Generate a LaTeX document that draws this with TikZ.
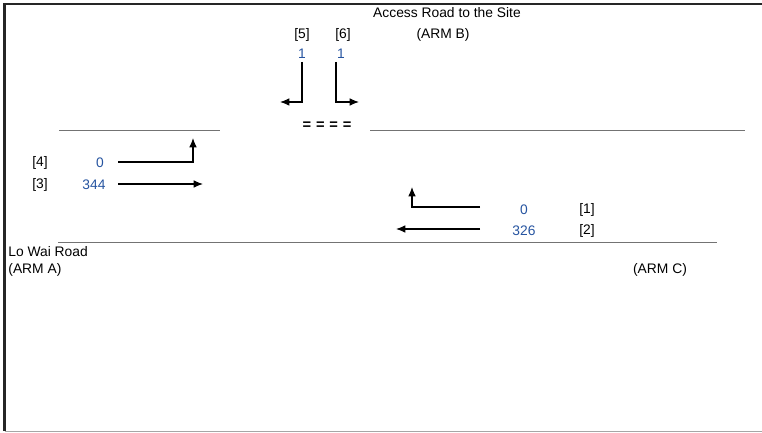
\documentclass[tikz,border=0pt]{standalone}
\usepackage{fontspec}
\setmainfont{Liberation Sans}
\usetikzlibrary{arrows.meta}
\definecolor{flowblue}{RGB}{38,84,160}

\begin{document}
\begin{tikzpicture}[x=0.03cm, y=-0.03cm, >={Latex[length=8pt,width=6.5pt]}, font=\fontsize{11.8}{14}\selectfont,
    flow/.style={text=flowblue},
    move/.style={->, line width=0.9pt},
    road/.style={black!55, line width=0.5pt}]
  \useasboundingbox (0,0) rectangle (762,433);

  % frame
  \draw[line width=1.8pt, black!85] (762,4) -- (4.5,4) -- (4.5,431);
  \draw[black!35, line width=0.4pt] (4.5,431) -- (762,431);

  % road edges
  \draw[road] (59,130) -- (220,130);
  \draw[road] (370,130) -- (745,130);
  \draw[road] (58,242) -- (717,242);
  \node[font=\bfseries\fontsize{12.5}{14}\selectfont] (stop) at (327,126) {=\,\,=\,\,=\,\,=};

  % road names
  \node (armb) at (447,13) {Access Road to the Site};
  \node (armbl) at (443,35) {(ARM B)};
  \node[anchor=west, inner sep=1pt] (arma) at (7,252) {Lo Wai Road};
  \node[anchor=west, inner sep=1pt] (armal) at (7,270) {(ARM A)};
  \node (armc) at (660,270) {(ARM C)};

  % arm B movements
  \node (n5) at (302,35) {[5]};
  \node (n6) at (343,35) {[6]};
  \node[flow] (v5) at (302,54) {1};
  \node[flow] (v6) at (341,54) {1};
  \coordinate (s5) at (302,62);
  \coordinate (e5) at (280,102);
  \coordinate (s6) at (336,62);
  \coordinate (e6) at (359,102);
  \draw[move] (s5) |- (e5);
  \draw[move] (s6) |- (e6);

  % arm A movements
  \node (n4) at (40,163) {[4]};
  \node (n3) at (40,185) {[3]};
  \node[flow] (v4) at (100,163) {0};
  \node[flow] (v3) at (94,185) {344};
  \coordinate (s4) at (118,162);
  \coordinate (e4) at (193,138);
  \coordinate (s3) at (118,184);
  \coordinate (e3) at (203,184);
  \draw[move] (s4) -| (e4);
  \draw[move] (s3) -- (e3);

  % arm C movements
  \node (n1) at (587,210) {[1]};
  \node (n2) at (587,231) {[2]};
  \node[flow] (v1) at (524,210) {0};
  \node[flow] (v2) at (524,231) {326};
  \coordinate (s1) at (480,207);
  \coordinate (e1) at (412,187);
  \coordinate (s2) at (480,229);
  \coordinate (e2) at (396,229);
  \draw[move] (s1) -| (e1);
  \draw[move] (s2) -- (e2);
\end{tikzpicture}
\end{document}
